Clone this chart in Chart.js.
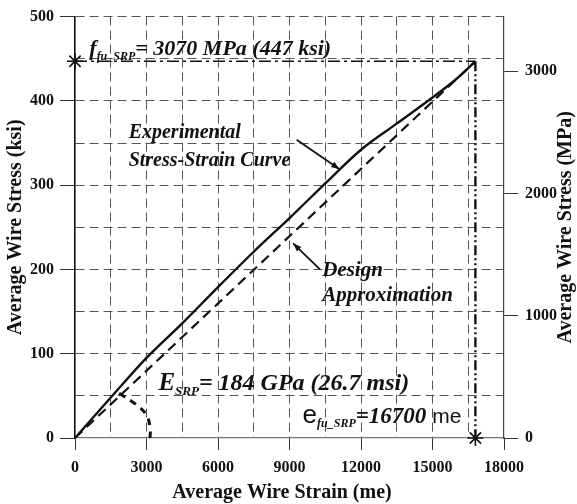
<!DOCTYPE html>
<html lang="en">
<head>
<meta charset="utf-8">
<title>Average Wire Stress vs Strain</title>
<script src="https://cdn.jsdelivr.net/npm/chart.js@4.4.1/dist/chart.umd.min.js"></script>
<style>
  html, body { margin: 0; padding: 0; background: #fff; }
  #wrap { position: relative; width: 577px; height: 504px; }
</style>
</head>
<body>
<div id="wrap"><canvas id="chart" width="577" height="504"></canvas></div>
<script>
// data (strain in microstrain, stress in ksi)
const expStrain = [0, 1500, 3000, 4500, 6000, 7500, 9000, 10500, 12000, 13500, 15000, 16000, 16800];
const expStress = [0, 48, 95, 136, 179, 221, 261, 302, 342, 373, 404, 426, 447];
const designStrain = [0, 16800];
const designStress = [0, 447];
const arcStrain = [1850, 2550, 3000, 3150, 3150];
const arcStress = [53, 40, 27, 12, 0];
const failStrain = 16800;
const failStress = 447;
const ksiTicks = [0, 100, 200, 300, 400, 500];
const mpaTicks = [0, 1000, 2000, 3000];
const strainTicks = [0, 3000, 6000, 9000, 12000, 15000, 18000];
const KSI_PER_MPA = 0.145038;

const pts = (xs, ys) => xs.map((x, i) => ({ x, y: ys[i] }));

const serif = '"Liberation Serif", "Times New Roman", serif';
const sans = '"Liberation Sans", Arial, sans-serif';

// annotation texts (data coordinates)
const labels = [
  { x: 600, y: 455, parts: [
    ['f', 'bold italic 22px', 0], ['fu_SRP', 'bold italic 12px', 5], ['= 3070 MPa (447 ksi)', 'bold italic 22px', 0]] },
  { x: 2250, y: 356, parts: [['Experimental', 'bold italic 20px', 0]] },
  { x: 2250, y: 323, parts: [['Stress-Strain Curve', 'bold italic 20px', 0]] },
  { x: 10370, y: 192, parts: [['Design', 'bold italic 21px', 0]] },
  { x: 10370, y: 162, parts: [['Approximation', 'bold italic 21px', 0]] },
  { x: 3500, y: 57, parts: [
    ['E', 'bold italic 25px', 0], ['SRP', 'bold italic 13px', 5], ['= 184 GPa (26.7 msi)', 'bold italic 24px', 0]] },
  { x: 9550, y: 18, parts: [
    ['e', '26px ' + sans, 0], ['fu_SRP', 'bold italic 12px', 4], ['=16700', 'bold italic 23px', 0], [' me', '21px ' + sans, 0]] }
];
const arrows = [
  { from: [9300, 354], to: [11100, 319] },
  { from: [10280, 200], to: [9150, 231] }
];

const annotate = {
  id: 'annotate',
  afterDatasetsDraw(chart) {
    const { ctx, scales: { x, y } } = chart;
    ctx.save();
    ctx.fillStyle = '#111';
    ctx.textBaseline = 'alphabetic';
    for (const l of labels) {
      let px = x.getPixelForValue(l.x);
      const py = y.getPixelForValue(l.y);
      for (const [t, f, dy] of l.parts) {
        ctx.font = f.includes('px ') && !f.includes('italic') ? f : f + ' ' + serif;
        ctx.fillText(t, px, py + dy);
        px += ctx.measureText(t).width;
      }
    }
    ctx.strokeStyle = '#111';
    ctx.lineWidth = 1.8;
    for (const a of arrows) {
      const x0 = x.getPixelForValue(a.from[0]), y0 = y.getPixelForValue(a.from[1]);
      const x1 = x.getPixelForValue(a.to[0]), y1 = y.getPixelForValue(a.to[1]);
      const ang = Math.atan2(y1 - y0, x1 - x0);
      ctx.beginPath();
      ctx.moveTo(x0, y0);
      ctx.lineTo(x1, y1);
      ctx.stroke();
      ctx.beginPath();
      ctx.moveTo(x1, y1);
      ctx.lineTo(x1 - 9 * Math.cos(ang - 0.35), y1 - 9 * Math.sin(ang - 0.35));
      ctx.lineTo(x1 - 9 * Math.cos(ang + 0.35), y1 - 9 * Math.sin(ang + 0.35));
      ctx.closePath();
      ctx.fill();
    }
    // axis titles
    ctx.font = 'bold 20px ' + serif;
    ctx.textAlign = 'center';
    ctx.fillText('Average Wire Strain (me)', 282, 498);
    ctx.save();
    ctx.translate(21, (y.top + y.bottom) / 2);
    ctx.rotate(-Math.PI / 2);
    ctx.fillText('Average Wire Stress (ksi)', 0, 0);
    ctx.restore();
    ctx.save();
    ctx.translate(571, (y.top + y.bottom) / 2);
    ctx.rotate(-Math.PI / 2);
    ctx.fillText('Average Wire Stress (MPa)', 0, 0);
    ctx.restore();
    ctx.restore();
  }
};

const gridDash = [9, 5];
const tickFont = { family: serif, size: 16, weight: 'bold' };

new Chart(document.getElementById('chart'), {
  type: 'scatter',
  data: {
    datasets: [
      { label: 'Experimental', data: pts(expStrain, expStress), showLine: true,
        borderColor: '#111', borderWidth: 2.4, pointRadius: 0, cubicInterpolationMode: 'monotone' },
      { label: 'Design', data: pts(designStrain, designStress), showLine: true,
        borderColor: '#111', borderWidth: 2.2, borderDash: [10, 6], pointRadius: 0 },
      { label: 'Arc', data: pts(arcStrain, arcStress), showLine: true,
        borderColor: '#111', borderWidth: 3, borderDash: [7, 6], pointRadius: 0, tension: 0.4 },
      { label: 'Fracture stress', data: [{ x: 0, y: failStress }, { x: failStrain, y: failStress }], showLine: true,
        borderColor: '#111', borderWidth: 1.6, borderDash: [12, 4, 3, 4], pointRadius: 0 },
      { label: 'Fracture strain', data: [{ x: failStrain, y: failStress }, { x: failStrain, y: 0 }], showLine: true,
        borderColor: '#111', borderWidth: 2.4, borderDash: [10, 3, 2, 3, 2, 3], pointRadius: 0 },
      { label: 'Markers', data: [{ x: 0, y: failStress }, { x: failStrain, y: 0 }], showLine: false,
        clip: false, pointStyle: 'star', pointRadius: 8, borderColor: '#111', pointBorderWidth: 1.6 }
    ]
  },
  options: {
    responsive: false,
    animation: false,
    layout: { padding: { top: 14, left: 0, right: 0, bottom: 0 } },
    plugins: { legend: { display: false }, tooltip: { enabled: false } },
    scales: {
      x: {
        type: 'linear', min: 0, max: 18000,
        afterFit: s => { s.height = 66; },
        ticks: {
          stepSize: 1500, padding: 8, color: '#111', font: tickFont,
          maxRotation: 0, minRotation: 0, autoSkip: false,
          callback: v => (strainTicks.includes(v) ? v : '')
        },
        grid: {
          color: ctx => (ctx.tick && (ctx.tick.value === 0 || ctx.tick.value === 18000) ? 'transparent' : '#555'),
          lineWidth: 1, tickLength: 12,
          tickColor: ctx => (strainTicks.includes(ctx.tick.value) ? '#333' : 'transparent')
        },
        border: { display: true, color: '#777', width: 1.2, dash: gridDash }
      },
      y: {
        type: 'linear', position: 'left', min: 0, max: 500,
        afterFit: s => { s.width = 75; },
        ticks: {
          stepSize: 50, padding: 6, color: '#111', font: tickFont, autoSkip: false,
          callback: v => (ksiTicks.includes(v) ? v : '')
        },
        grid: {
          color: ctx => (ctx.tick && ctx.tick.value === 0 ? 'transparent' : '#555'),
          lineWidth: 1, tickLength: 15,
          tickColor: ctx => (ksiTicks.includes(ctx.tick.value) ? '#333' : 'transparent')
        },
        border: { display: true, color: '#111', width: 1.6, dash: gridDash }
      },
      y2: {
        type: 'linear', position: 'right', min: 0, max: 500 / KSI_PER_MPA,
        afterFit: s => { s.width = 73; },
        afterBuildTicks: s => { s.ticks = mpaTicks.map(v => ({ value: v })); },
        ticks: { padding: 7, color: '#111', font: tickFont, callback: v => v },
        grid: { drawOnChartArea: false, tickLength: 14, tickColor: '#333' },
        border: { display: true, color: '#444', width: 1.2 }
      }
    }
  },
  plugins: [annotate]
});
</script>
</body>
</html>
